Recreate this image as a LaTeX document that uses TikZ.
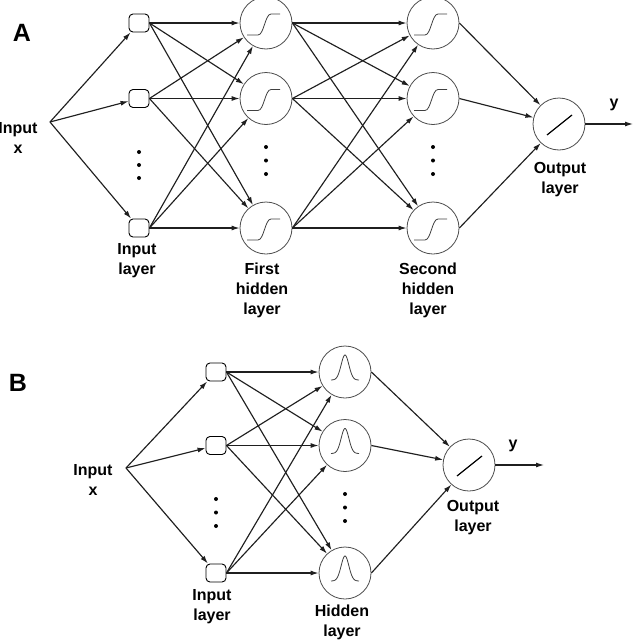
\documentclass[tikz,border=0pt]{standalone}
\usepackage{fontspec}
\setmainfont{Liberation Sans}
\usepackage{tikz}
\usetikzlibrary{arrows.meta}
\usetikzlibrary{calc}
\usetikzlibrary{positioning}

\begin{document}
\begin{tikzpicture}[x=1pt, y=-1pt, >={Latex[length=8pt,width=5pt]},
  every node/.style={font=\fontsize{16}{20}\selectfont\bfseries, align=center},
  tag/.style={font=\fontsize{25}{25}\selectfont\bfseries},
  link/.style={->, line width=1.15pt, draw=black!88},
  unitbox/.style={draw, rectangle, rounded corners=4pt, minimum width=20pt,
    minimum height=18pt, inner sep=0pt, line width=0.9pt},
  neuron/.style={draw=black!70, circle, minimum size=52pt, inner sep=0pt, line width=0.8pt},
  glyph/.style={draw=black!75, line width=0.8pt}]

  \useasboundingbox (0,0) rectangle (635,640);

  % A: two hidden layers
  \node[tag] (tagA) at (22,33) {A};
  \coordinate (X) at (50,122);
  \foreach \i/\y in {1/23, 2/98.5, 3/228} {
    \node[unitbox] (I\i) at (139,\y) {};
    \node[neuron] (H\i) at (266,\y) {};
    \node[neuron] (G\i) at (433,\y) {};
  }
  \node[neuron] (O) at (559,124) {};
  \coordinate (Y) at (633,124);

  \foreach \i in {1,2,3} {
    \draw[link] (X) -- (I\i);
    \draw[link] (G\i.east) -- (O);
    \foreach \j in {1,2,3} {
      \draw[link] (I\i.east) -- (H\j);
      \draw[link] (H\i.east) -- (G\j);
    }
    \draw[glyph, shift={(H\i.center)}] (-19,12) -- (-8,12)
      .. controls (-2,12) and (-1,-9) .. (5,-9) -- (14,-9);
    \draw[glyph, shift={(G\i.center)}] (-19,12) -- (-8,12)
      .. controls (-2,12) and (-1,-9) .. (5,-9) -- (14,-9);
  }
  \draw[link] (O) -- (Y);
  \draw[line width=1.2pt, shift={(O.center)}] (-12,11) -- (13,-9);

  \foreach \y in {152,165,178} \fill (139,\y) circle (2pt);
  \foreach \y in {147,160.5,174} {
    \fill (266,\y) circle (2pt);
    \fill (433,\y) circle (2pt);
  }

  \node (labX) at (18,138) {Input\\x};
  \node (labI) at (137,261) {Input\\layer};
  \node (labH) at (262,290) {First\\hidden\\layer};
  \node (labG) at (428,290) {Second\\hidden\\layer};
  \node (labO) at (560,179.5) {Output\\layer};
  \node (labY) at (614,105) {y};

  % B: one hidden layer
  \node[tag] (tagB) at (18,383) {B};
  \coordinate (W) at (126,468);
  \foreach \i/\y in {1/372, 2/445.5, 3/573} {
    \node[unitbox] (J\i) at (216,\y) {};
    \node[neuron] (K\i) at (345,\y) {};
  }
  \node[neuron] (Q) at (469,465) {};
  \coordinate (Z) at (544,465);

  \foreach \i in {1,2,3} {
    \draw[link] (W) -- (J\i);
    \draw[link] (K\i.east) -- (Q);
    \foreach \j in {1,2,3}
      \draw[link] (J\i.east) -- (K\j);
    \draw[glyph, shift={(K\i.center)}]
      plot[domain=-14:14, samples=40, smooth] (\x, {8-25*exp(-(\x)^2/30)});
  }
  \draw[link] (Q) -- (Z);
  \draw[line width=1.2pt, shift={(Q.center)}] (-12,11) -- (13,-9);

  \foreach \y in {499,512.5,526} \fill (216,\y) circle (2pt);
  \foreach \y in {494,507.5,521} \fill (345,\y) circle (2pt);

  \node (labW) at (93,480) {Input\\x};
  \node (labJ) at (212,607) {Input\\layer};
  \node (labK) at (342,622) {Hidden\\layer};
  \node (labQ) at (473,517.5) {Output\\layer};
  \node (labZ) at (513,446) {y};

\end{tikzpicture}
\end{document}
